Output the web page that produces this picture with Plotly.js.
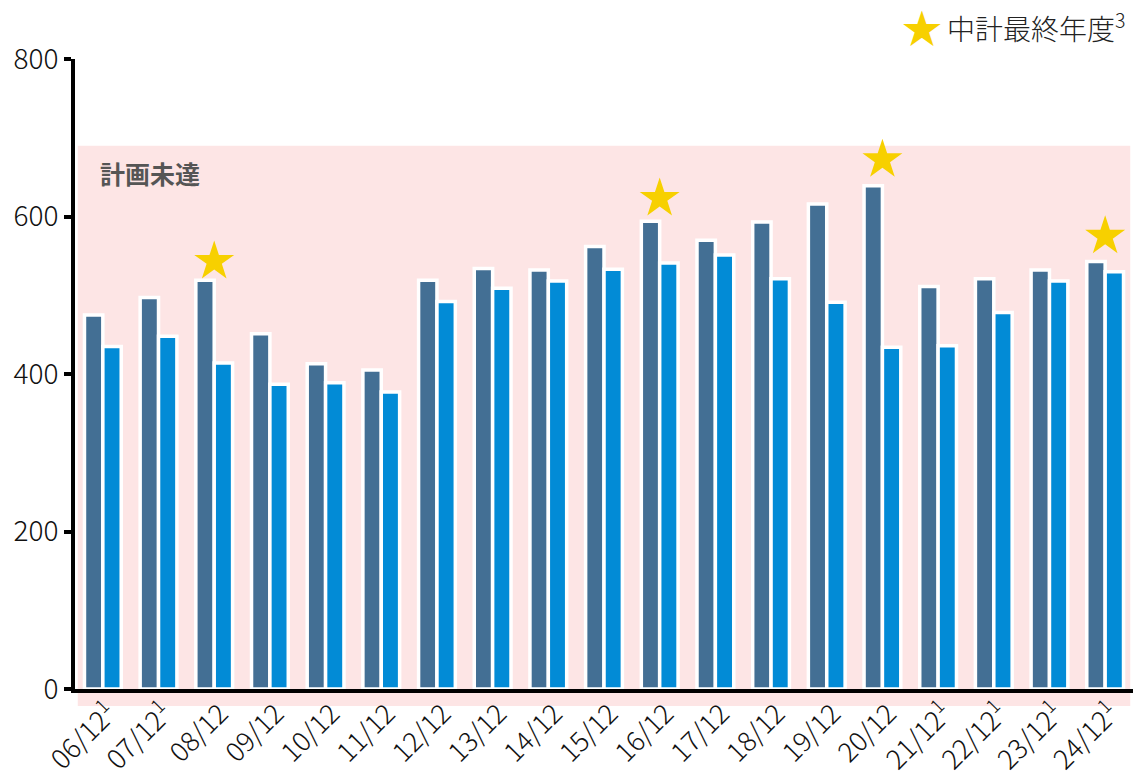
<!DOCTYPE html>
<html>
<head>
<meta charset="utf-8">
<script src="https://cdn.plot.ly/plotly-3.0.1.min.js"></script>
<style>
  html, body { margin: 0; padding: 0; background: #fff; }
  #chart { width: 1137px; height: 777px; }
</style>
</head>
<body>
<div id="chart"></div>
<script>
// Fiscal periods (年/月), superscript marks footnote 1
const periods = ["06/12", "07/12", "08/12", "09/12", "10/12", "11/12", "12/12", "13/12", "14/12", "15/12",
                 "16/12", "17/12", "18/12", "19/12", "20/12", "21/12", "22/12", "23/12", "24/12"];
const periodNotes = ["1", "1", "", "", "", "", "", "", "", "", "", "", "", "", "", "1", "1", "1", "1"];

// Two series per period
const seriesA = [475, 497, 519, 451, 413, 405, 519, 534, 532, 562, 594, 570, 593, 616, 639, 511, 521, 532, 543];
const seriesB = [435, 448, 414, 387, 389, 377, 492, 509, 518, 533, 541, 551, 521, 491, 434, 436, 478, 518, 530];

// Final years of each mid-term plan (中計最終年度) and star heights
const planFinalPeriods = ["08/12", "16/12", "20/12", "24/12"];
const planFinalStars = [543, 623, 672, 575];

// Upper bound of the shaded "計画未達" band
const planLevel = 690;
const yMax = 800;
const yTicks = [0, 200, 400, 600, 800];

const darkBlue = "#436f94";
const brightBlue = "#028bd6";
const starYellow = "#f7d000";
const pink = "#fde5e5";
const font = "Noto Sans CJK JP, Noto Sans, sans-serif";

const tickText = periods.map((p, i) => periodNotes[i] ? p + "<sup>" + periodNotes[i] + "</sup>" : p);

const barLine = { color: "#ffffff", width: 3.5 };

const traces = [
  {
    type: "bar", x: periods, y: seriesA, name: "A",
    marker: { color: darkBlue, line: barLine },
    hoverinfo: "x+y"
  },
  {
    type: "bar", x: periods, y: seriesB, name: "B",
    marker: { color: brightBlue, line: barLine },
    hoverinfo: "x+y"
  },
  {
    type: "scatter", mode: "markers", x: planFinalPeriods, y: planFinalStars,
    name: "中計最終年度",
    marker: { symbol: "star", size: 30, color: starYellow, line: { width: 0 } },
    cliponaxis: false,
    hoverinfo: "x"
  }
];

const layout = {
  width: 1137, height: 777,
  margin: { l: 75, r: 4, t: 59, b: 88 },
  paper_bgcolor: "#ffffff",
  plot_bgcolor: "rgba(0,0,0,0)",
  showlegend: false,
  barmode: "group",
  bargap: 0.34,
  bargroupgap: 0,
  font: { family: font, size: 26, color: "#111111" },
  xaxis: {
    type: "category",
    tickvals: periods,
    ticktext: tickText,
    tickangle: -45,
    ticklabelshift: 6,
    ticklabelstandoff: -6,
    showline: true, linecolor: "#000000", linewidth: 4,
    ticks: "",
    showgrid: false, zeroline: false,
    tickfont: { family: font, size: 27, weight: 300, color: "#111111" },
    range: [-0.5, periods.length - 0.5],
    fixedrange: true
  },
  yaxis: {
    range: [0, yMax],
    tickvals: yTicks,
    showline: true, linecolor: "#000000", linewidth: 4,
    ticks: "outside", ticklen: 7, tickwidth: 4, tickcolor: "#000000",
    showgrid: false, zeroline: false,
    tickfont: { family: font, size: 28, weight: 300, color: "#111111" },
    fixedrange: true
  },
  shapes: [
    {
      type: "rect", layer: "below",
      xref: "x", yref: "paper",
      x0: -0.45, x1: periods.length - 0.55,
      y0: -0.027, y1: planLevel / yMax,
      fillcolor: pink, line: { width: 0 }
    }
  ],
  annotations: [
    {
      text: "<b>計画未達</b>",
      xref: "paper", yref: "paper",
      x: 0.022, y: 0.819,
      xanchor: "left", yanchor: "middle",
      showarrow: false,
      font: { family: font, size: 25, color: "#555555" }
    },
    {
      text: "★",
      xref: "paper", yref: "paper",
      x: 0.8006, y: 1.053,
      xanchor: "center", yanchor: "middle",
      showarrow: false,
      font: { family: font, size: 40, color: starYellow }
    },
    {
      text: "中計最終年度<sup>3</sup>",
      xref: "paper", yref: "paper",
      x: 0.822, y: 1.052,
      xanchor: "left", yanchor: "middle",
      showarrow: false,
      font: { family: font, size: 28, weight: 300, color: "#222222" }
    }
  ]
};

Plotly.newPlot("chart", traces, layout, { displayModeBar: false, staticPlot: true });
</script>
</body>
</html>
